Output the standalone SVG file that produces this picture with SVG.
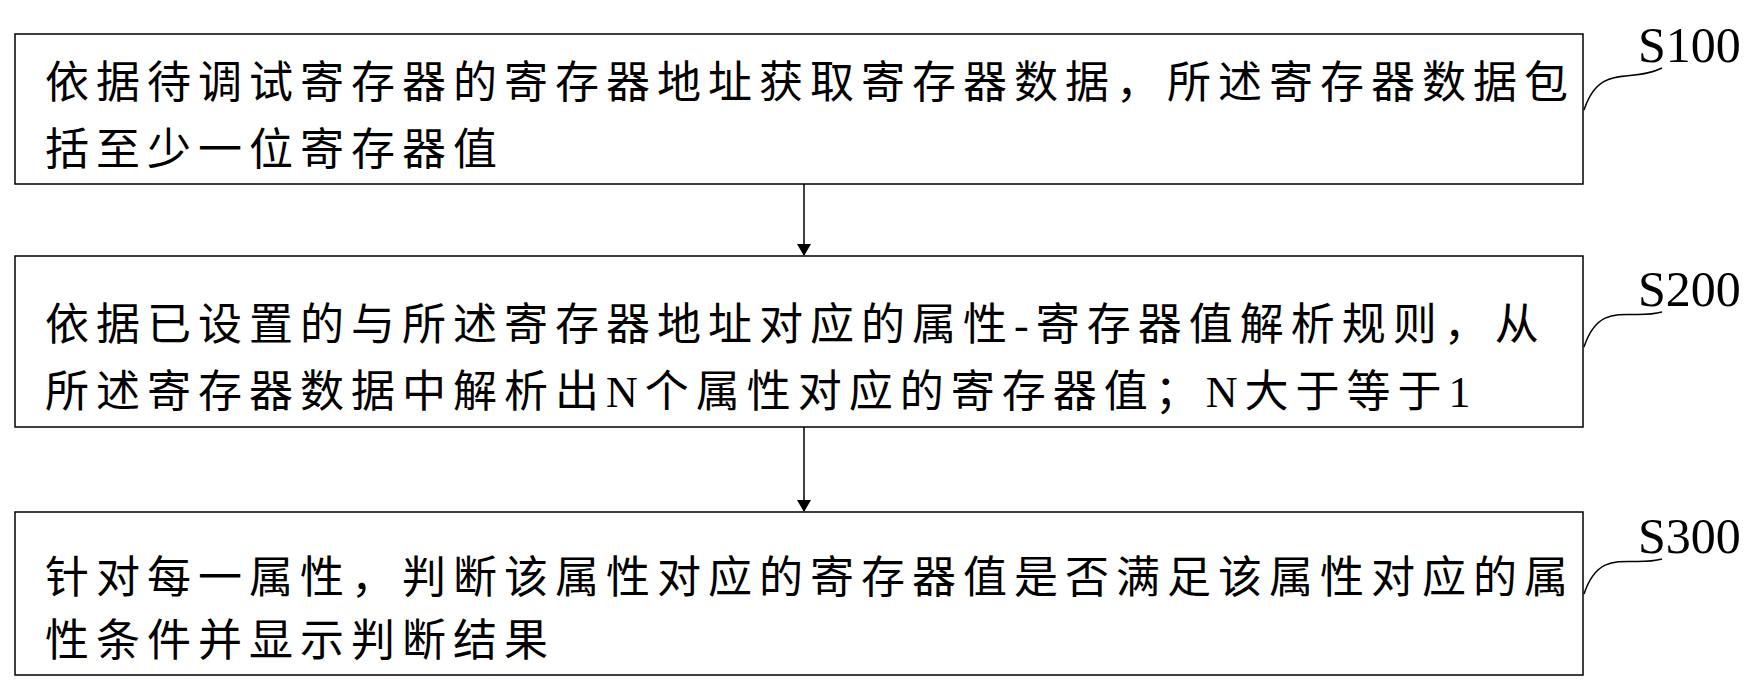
<svg xmlns="http://www.w3.org/2000/svg" width="1763" height="691" viewBox="0 0 1763 691">
<style>
.box{fill:#fff;stroke:#000;stroke-width:1.5}
.t{font-family:"Liberation Serif","Noto Sans CJK SC",serif;font-size:44px;letter-spacing:7px;fill:#000}
.lbl{font-family:"Liberation Serif",serif;font-size:50px;fill:#000}
.c{fill:none;stroke:#000;stroke-width:1.5}
</style>
<defs><marker id="ah" markerWidth="12" markerHeight="14" refX="11" refY="7" orient="auto" markerUnits="userSpaceOnUse"><path d="M0,0 L12,7 L0,14 z" fill="#000"/></marker></defs>
<rect width="1763" height="691" fill="#fff"/>
<g id="S100">
<rect class="box" x="15" y="34" width="1568" height="150"/>
<text class="t" x="45" y="98">依据待调试寄存器的寄存器地址获取寄存器数据，所述寄存器数据包</text>
<text class="t" x="45" y="165">括至少一位寄存器值</text>
<text class="lbl" x="1638" y="62">S100</text>
</g>
<g id="S200">
<rect class="box" x="15" y="256" width="1568" height="171"/>
<text class="t" x="45" y="340">依据已设置的与所述寄存器地址对应的属性-寄存器值解析规则，从</text>
<text class="t" x="45" y="407">所述寄存器数据中解析出N个属性对应的寄存器值；N大于等于1</text>
<text class="lbl" x="1638" y="306">S200</text>
</g>
<g id="S300">
<rect class="box" x="15" y="512" width="1568" height="163"/>
<text class="t" x="45" y="593">针对每一属性，判断该属性对应的寄存器值是否满足该属性对应的属</text>
<text class="t" x="45" y="656">性条件并显示判断结果</text>
<text class="lbl" x="1638" y="553">S300</text>
</g>
<g id="connectors">
<line class="c" x1="804" y1="184" x2="804" y2="255" marker-end="url(#ah)"/>
<line class="c" x1="804" y1="427" x2="804" y2="511" marker-end="url(#ah)"/>
<path class="c" d="M1584,110 C1600,62 1630,84 1662,68"/>
<path class="c" d="M1584,347 C1600,299 1630,321 1662,312"/>
<path class="c" d="M1584,594 C1600,546 1630,568 1662,559"/>
</g>
</svg>
